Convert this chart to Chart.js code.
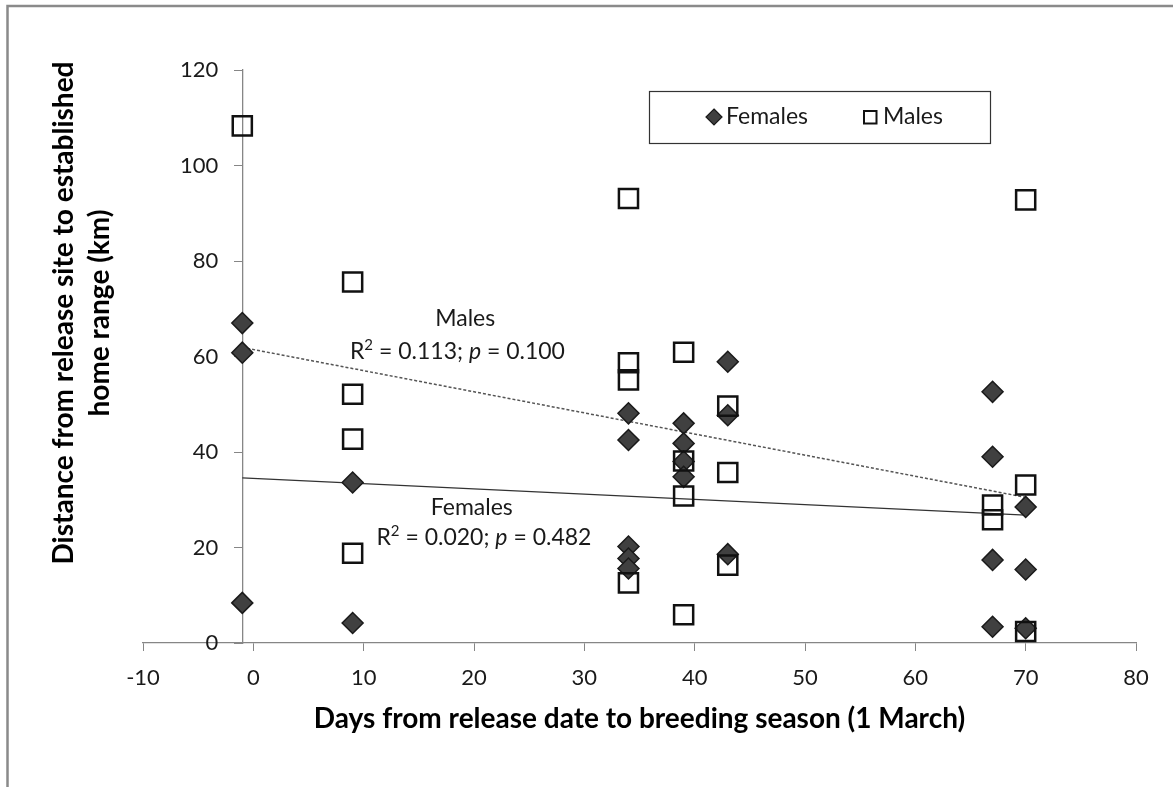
<!DOCTYPE html>
<html>
<head>
<meta charset="utf-8">
<script src="https://cdn.jsdelivr.net/npm/chart.js@4.4.1/dist/chart.umd.min.js"></script>
<style>
  html, body { margin: 0; padding: 0; background: #ffffff; }
  #wrap { position: relative; width: 1173px; height: 787px; }
  canvas { display: block; }
</style>
</head>
<body>
<div id="wrap"><canvas id="c" width="1173" height="787"></canvas></div>
<script>
// ---------------- DATA ----------------
const femaleDays = [-1, -1, -1, 9, 9, 34, 34, 34, 34, 34, 39, 39, 39, 39, 43, 43, 43, 67, 67, 67, 67, 70, 70, 70];
const femaleDist = [67.0, 60.8, 8.4, 33.6, 4.2, 48.1, 42.5, 20.2, 17.7, 15.6, 46.0, 41.8, 38.0, 34.8, 58.9, 47.7, 18.6, 52.6, 39.0, 17.4, 3.4, 28.5, 15.4, 3.1];
const maleDays = [-1, 9, 9, 9, 9, 34, 34, 34, 34, 39, 39, 39, 39, 43, 43, 43, 67, 67, 70, 70, 70];
const maleDist = [108.3, 75.6, 52.1, 42.7, 18.8, 93.1, 58.7, 55.1, 12.6, 60.9, 38.1, 30.8, 5.9, 49.6, 35.7, 16.3, 28.9, 25.8, 92.8, 33.1, 2.4];
const trendDays = [-1, 70];
const maleTrend = [61.9, 30.5];
const femaleTrend = [34.6, 26.8];
const seriesNames = ['Females', 'Males'];
const xTickValues = [-10, 0, 10, 20, 30, 40, 50, 60, 70, 80];
const yTickValues = [0, 20, 40, 60, 80, 100, 120];
const maleStats = ['0.113', '0.100'];
const femaleStats = ['0.020', '0.482'];
const xTitle = 'Days from release date to breeding season (1 March)';
const yTitle = ['Distance from release site to established', 'home range (km)'];

// -------------- helpers ---------------
const pts = (xs, ys) => xs.map((x, i) => ({ x: x, y: ys[i] }));
const FONT = 'Lato';
const femaleFill = '#404040';
const femaleBorder = '#1a1a1a';
const axisGray = '#868686';

// A linear scale whose tick labels keep their tick length + padding away
// from an axis line that is placed at a data value (position: {x: value}).
class OffsetLinearScale extends Chart.LinearScale {
  _computeLabelItems(chartArea) {
    const items = super._computeLabelItems(chartArea);
    const shift = (this.options.grid.tickLength || 0) + (this.options.ticks.padding || 0);
    items.forEach(it => {
      const t = it.options.translation;
      it.options.translation = [t[0] - shift, t[1]];
    });
    return items;
  }
}
OffsetLinearScale.id = 'offsetLinear';
Chart.register(OffsetLinearScale);

function drawRich(ctx, parts, cx, cy, size) {
  const fontFor = p => (p.it ? 'italic ' : '') + (p.sup ? Math.round(size * 0.65) : size) + 'px ' + FONT;
  let total = 0;
  parts.forEach(p => { ctx.font = fontFor(p); p.w = ctx.measureText(p.t).width; total += p.w; });
  let x = cx - total / 2;
  ctx.textBaseline = 'middle';
  ctx.textAlign = 'left';
  parts.forEach(p => {
    ctx.font = fontFor(p);
    ctx.fillText(p.t, x, p.sup ? cy - size * 0.3 : cy);
    x += p.w;
  });
}

const decor = {
  id: 'decor',
  beforeDraw(chart) {
    const ctx = chart.ctx;
    ctx.save();
    ctx.fillStyle = '#ffffff';
    ctx.fillRect(0, 0, chart.width, chart.height);
    ctx.strokeStyle = '#8a8a8a';
    ctx.lineWidth = 2.5;
    ctx.strokeRect(7.5, 6, chart.width + 40, chart.height + 40);
    ctx.restore();
  },
  afterDraw(chart) {
    const ctx = chart.ctx;
    const xs = chart.scales.x, ys = chart.scales.y;
    ctx.save();
    ctx.fillStyle = '#000000';
    // y axis title (two lines, rotated)
    ctx.save();
    ctx.translate(82, 313);
    ctx.rotate(-Math.PI / 2);
    ctx.font = 'bold 28px ' + FONT;
    ctx.textAlign = 'center';
    ctx.textBaseline = 'middle';
    ctx.fillText(yTitle[0], 0, -18);
    ctx.fillText(yTitle[1], 0, 18);
    ctx.restore();

    // annotations
    const fs = 23;
    ctx.fillStyle = '#1a1a1a';
    ctx.font = fs + 'px ' + FONT;
    ctx.textAlign = 'center';
    ctx.textBaseline = 'middle';
    ctx.fillText(seriesNames[1], xs.getPixelForValue(19.2), ys.getPixelForValue(68.0));
    drawRich(ctx, [{ t: 'R' }, { t: '2', sup: true }, { t: ' = ' + maleStats[0] + '; ' }, { t: 'p', it: true }, { t: ' = ' + maleStats[1] }],
      xs.getPixelForValue(18.5), ys.getPixelForValue(61.0), fs);
    ctx.font = fs + 'px ' + FONT;
    ctx.textAlign = 'center';
    ctx.fillText(seriesNames[0], xs.getPixelForValue(19.8), ys.getPixelForValue(28.3));
    drawRich(ctx, [{ t: 'R' }, { t: '2', sup: true }, { t: ' = ' + femaleStats[0] + '; ' }, { t: 'p', it: true }, { t: ' = ' + femaleStats[1] }],
      xs.getPixelForValue(20.9), ys.getPixelForValue(22.0), fs);

    // legend
    const L = { x: 649, y: 91, w: 341, h: 52 };
    ctx.fillStyle = '#ffffff';
    ctx.fillRect(L.x, L.y, L.w, L.h);
    ctx.strokeStyle = '#333333';
    ctx.lineWidth = 1.2;
    ctx.strokeRect(L.x + 0.5, L.y + 0.5, L.w, L.h);
    const cy = L.y + L.h / 2;
    const fd = chart.data.datasets[1];
    ctx.beginPath();
    ctx.moveTo(714, cy - 8); ctx.lineTo(722, cy); ctx.lineTo(714, cy + 8); ctx.lineTo(706, cy); ctx.closePath();
    ctx.fillStyle = fd.backgroundColor; ctx.fill();
    ctx.strokeStyle = fd.borderColor; ctx.lineWidth = 1.2; ctx.stroke();
    const md = chart.data.datasets[0];
    ctx.strokeStyle = md.borderColor; ctx.lineWidth = 2;
    ctx.fillStyle = '#ffffff';
    ctx.fillRect(864, cy - 6, 12.5, 12.5);
    ctx.strokeRect(864, cy - 6, 12.5, 12.5);
    ctx.fillStyle = '#1a1a1a';
    ctx.font = '23px ' + FONT;
    ctx.textAlign = 'left';
    ctx.textBaseline = 'middle';
    ctx.fillText(fd.label, 726, cy);
    ctx.fillText(md.label, 883, cy);
    ctx.restore();
  }
};

new Chart(document.getElementById('c'), {
  type: 'scatter',
  data: {
    datasets: [
      {
        label: seriesNames[1],
        data: pts(maleDays, maleDist),
        pointStyle: 'rect',
        pointRadius: 13.5,
        pointHoverRadius: 13.5,
        backgroundColor: 'rgba(255,255,255,0)',
        borderColor: '#111111',
        borderWidth: 2.5,
        order: 0
      },
      {
        label: seriesNames[0],
        data: pts(femaleDays, femaleDist),
        pointStyle: 'rectRot',
        pointRadius: 10.5,
        pointHoverRadius: 10.5,
        backgroundColor: femaleFill,
        borderColor: femaleBorder,
        borderWidth: 1.5,
        order: 1
      },
      {
        label: 'Males trend',
        type: 'line',
        data: pts(trendDays, maleTrend),
        borderColor: '#555555',
        borderWidth: 1.5,
        borderDash: [3, 2],
        pointRadius: 0,
        fill: false,
        order: 2
      },
      {
        label: 'Females trend',
        type: 'line',
        data: pts(trendDays, femaleTrend),
        borderColor: '#333333',
        borderWidth: 1.3,
        pointRadius: 0,
        fill: false,
        order: 3
      }
    ]
  },
  options: {
    responsive: false,
    animation: false,
    devicePixelRatio: 1,
    layout: { padding: { left: 143, right: 37, top: 70, bottom: 0 } },
    plugins: { legend: { display: false }, tooltip: { enabled: false } },
    scales: {
      x: {
        type: 'linear',
        position: 'bottom',
        min: -10, max: 80,
        afterBuildTicks: s => { s.ticks = xTickValues.map(v => ({ value: v })); },
        afterFit: s => { s.height = 144; },
        grid: { drawOnChartArea: false, drawTicks: true, tickLength: 8, color: axisGray, lineWidth: 1 },
        border: { color: axisGray, width: 1.3 },
        ticks: { color: '#1a1a1a', font: { family: FONT, size: 22 }, padding: 14 },
        title: { display: true, text: xTitle, color: '#000', font: { family: FONT, size: 28, weight: 'bold' }, padding: { top: 0, bottom: 51 } }
      },
      y: {
        type: 'offsetLinear',
        position: { x: -1 },
        min: 0, max: 120,
        afterBuildTicks: s => { s.ticks = yTickValues.map(v => ({ value: v })); },
        grid: { drawOnChartArea: false, drawTicks: true, tickLength: 8, color: axisGray, lineWidth: 1 },
        border: { color: axisGray, width: 1.3 },
        ticks: { color: '#1a1a1a', font: { family: FONT, size: 22 }, padding: 16 }
      }
    }
  },
  plugins: [decor]
});
</script>
</body>
</html>
